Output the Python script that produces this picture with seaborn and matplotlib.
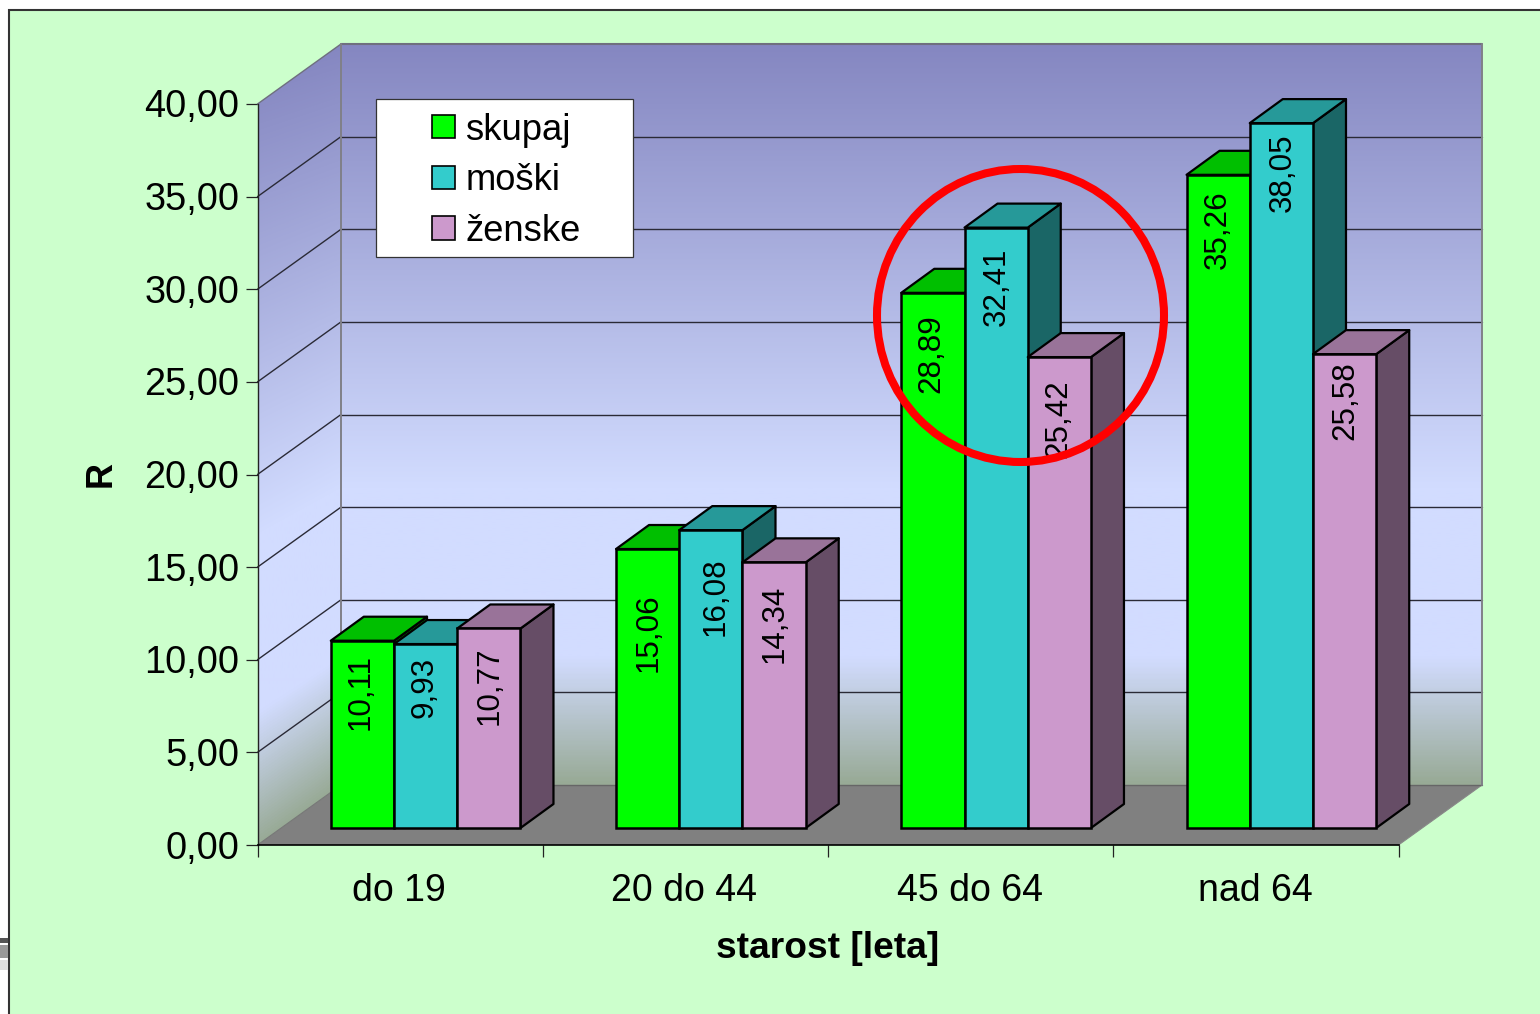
import numpy as np
import pandas as pd
import matplotlib
matplotlib.use("Agg")
import matplotlib.pyplot as plt
import seaborn as sns
from matplotlib.colors import to_rgb, LinearSegmentedColormap
from matplotlib.patches import Polygon, Rectangle, Ellipse
from matplotlib.transforms import Affine2D, IdentityTransform

# Chart values
age_groups = ["do 19", "20 do 44", "45 do 64", "nad 64"]
series_names = ["skupaj", "moški", "ženske"]
skupaj = [10.11, 15.06, 28.89, 35.26]
moski = [9.93, 16.08, 32.41, 38.05]
zenske = [10.77, 14.34, 25.42, 25.58]
value_labels = [["10,11", "15,06", "28,89", "35,26"],
                ["9,93", "16,08", "32,41", "38,05"],
                ["10,77", "14,34", "25,42", "25,58"]]
y_ticks = [0, 5, 10, 15, 20, 25, 30, 35, 40]
y_tick_labels = ["0,00", "5,00", "10,00", "15,00", "20,00", "25,00", "30,00", "35,00", "40,00"]

# Distance in pixels from the top of each bar to the centre of its rotated label
label_drop = [[51, 84, 61, 55],
              [43, 67, 59, 50],
              [57, 62, 62, 46]]
label_shift = [[-2, 1, -2, 0],
               [-1, 5, 1, 1],
               [1, 1, -1, 1]]

W, H = 1540, 1014
DPI = 100
sns.set_theme(style="white")
plt.rcParams["font.family"] = ["Liberation Sans", "DejaVu Sans"]

fig = plt.figure(figsize=(W / DPI, H / DPI), dpi=DPI, facecolor="white")

# Front plane of the box: x 257.5-1398.5, y 845 (zero) to 104 (forty)
FX0, FX1, FY0, FY1 = 257.5, 1398.5, 845, 104
BACK_DX, BACK_DY = 83.5, 60        # full box depth
BAR_DX, BAR_DY = 25.5, 17          # front of the bars inside the box
FACE_DX, FACE_DY = 33, 24          # depth of one bar

# Pixel-space layer holding panel, walls and floor
bg = fig.add_axes([0, 0, 1, 1], zorder=0)
bg.set_xlim(0, W)
bg.set_ylim(H, 0)
bg.axis("off")
bg.add_patch(Rectangle((8.7, 9.7), W, H, facecolor="#ccffcc", edgecolor="#333333", lw=1.5))
bg.add_patch(Rectangle((0, 938), 7.5, 5, facecolor="#555555", edgecolor="none"))
bg.add_patch(Rectangle((0, 945), 7.5, 13, facecolor="#999999", edgecolor="none"))
bg.add_patch(Rectangle((0, 960), 7.5, 10, facecolor="#dddddd", edgecolor="none"))

wall_cmap = LinearSegmentedColormap.from_list(
    "wall", [(0, "#8587c1"), (0.60, "#d2dcff"), (0.83, "#d2dcff"), (1, "#98aa96")])

# Back wall
back_x0, back_x1 = FX0 + BACK_DX, FX1 + BACK_DX
back_y1, back_y0 = FY1 - BACK_DY, FY0 - BACK_DY
bg.imshow(np.linspace(0, 1, 400)[:, None], cmap=wall_cmap, vmin=0, vmax=1, aspect="auto",
          extent=(back_x0, back_x1, back_y0, back_y1), zorder=1, interpolation="bilinear")

# Side wall, its gradient lightly sheared along the depth direction
xx, yy = np.meshgrid(np.arange(FX0, back_x0 + 1), np.arange(back_y1, FY0 + 1))
wall_top = back_y1 + (back_x0 - xx) * 0.3
wall_bottom = back_y0 + (back_x0 - xx) * BACK_DY / BACK_DX
tt = (yy - wall_top) / (wall_bottom - wall_top)
side_im = bg.imshow(np.clip(tt, 0, 1), cmap=wall_cmap, vmin=0, vmax=1, aspect="auto",
                    extent=(FX0, back_x0, FY0, back_y1), zorder=1, interpolation="bilinear")
side_poly = Polygon([(FX0, FY1), (back_x0, back_y1), (back_x0, back_y0), (FX0, FY0)],
                    transform=bg.transData, facecolor="none", edgecolor="none")
bg.add_patch(side_poly)
side_im.set_clip_path(side_poly)

# Floor
bg.add_patch(Polygon([(FX0, FY0), (back_x0, back_y0), (back_x1, back_y0), (FX1, FY0)],
                     facecolor="#808080", edgecolor="none", zorder=1.5))
bg.set_xlim(0, W)
bg.set_ylim(H, 0)

# Main axes sit on the front plane, so ticks and labels use its own scale
ax = fig.add_axes([FX0 / W, 1 - FY0 / H, (FX1 - FX0) / W, (FY0 - FY1) / H], zorder=2)
ax.patch.set_alpha(0)

df = pd.DataFrame({
    "starost": age_groups * 3,
    "R": skupaj + moski + zenske,
    "spol": [n for n in series_names for _ in age_groups],
})
palette = dict(zip(series_names, ["#00ff00", "#33cccc", "#cc99cc"]))
sns.barplot(data=df, x="starost", y="R", hue="spol", hue_order=series_names,
            order=age_groups, palette=palette, saturation=1, width=0.665, gap=0,
            edgecolor="black", linewidth=1.8, ax=ax, errorbar=None)
ax.set_xlim(-0.5, 3.5)
ax.set_ylim(0, 40)

for s in ("top", "right"):
    ax.spines[s].set_visible(False)
ax.spines["left"].set_color("#222222")
ax.spines["left"].set_linewidth(1.0)
ax.spines["bottom"].set_color("black")
ax.spines["bottom"].set_linewidth(1.2)

ax.set_yticks(y_ticks, y_tick_labels)
ax.set_xticks(range(len(age_groups)), age_groups)
ax.set_xticks(np.arange(-0.5, 4), minor=True)
ax.tick_params(axis="y", which="major", left=True, length=8.6, width=0.9, color="#222222",
               pad=4.5, labelsize=27.4, labelcolor="black")
ax.tick_params(axis="x", which="major", bottom=False, length=0, pad=20.5, labelsize=27,
               labelcolor="black")
ax.tick_params(axis="x", which="minor", bottom=True, length=8.6, width=0.9, color="#222222")
for lab in ax.get_yticklabels():
    lab.set_transform(lab.get_transform() + Affine2D().translate(0, 0.5))
for lab in ax.get_xticklabels():
    lab.set_transform(lab.get_transform() + Affine2D().translate(-1, 0))

ax.set_xlabel("starost [leta]", fontsize=26.7, fontweight="bold", va="center", color="black")
ax.xaxis.set_label_coords((828 - FX0) / (FX1 - FX0), (FY0 - 948) / (FY0 - FY1))
ax.set_ylabel("R", fontsize=26, fontweight="bold", va="center", color="black")
ax.yaxis.set_label_coords((101.5 - FX0) / (FX1 - FX0), (FY0 - 474) / (FY0 - FY1))

fig.canvas.draw()
data_to_px = ax.transData

# Wall rules, floor edges and the outline of the box
for v in y_ticks:
    px = data_to_px.transform((-0.5, v))
    pe = data_to_px.transform((3.5, v))
    a = px + (BACK_DX, BACK_DY)
    b = pe + (BACK_DX, BACK_DY)
    col, lw = ("#6f6f7f", 1.5) if v == 40 else ("#2a2a36", 1.0)
    if v > 0:
        ax.plot([a[0], b[0]], [a[1], b[1]], color=col, lw=lw, transform=IdentityTransform(),
                clip_on=False, zorder=1.0)
        ax.plot([px[0], a[0]], [px[1], a[1]], color=col, lw=1.0, transform=IdentityTransform(),
                clip_on=False, zorder=1.0)
    else:
        ax.plot([px[0], a[0]], [px[1], a[1]], color="#777777", lw=0.8,
                transform=IdentityTransform(), clip_on=False, zorder=1.0)
        ax.plot([pe[0], b[0]], [pe[1], b[1]], color="#888888", lw=0.8,
                transform=IdentityTransform(), clip_on=False, zorder=1.0)
        ax.plot([a[0], b[0]], [a[1], b[1]], color="#666666", lw=1.0,
                transform=IdentityTransform(), clip_on=False, zorder=1.0)
for cat_x in (-0.5, 3.5):
    p0 = data_to_px.transform((cat_x, 0)) + (BACK_DX, BACK_DY)
    p1 = data_to_px.transform((cat_x, 40)) + (BACK_DX, BACK_DY)
    ax.plot([p0[0], p1[0]], [p0[1], p1[1]], color="#808088", lw=1.4,
            transform=IdentityTransform(), clip_on=False, zorder=1.0)

# Extrude every bar: side and top faces follow the front rectangle
shift = Affine2D().translate(BAR_DX, BAR_DY)
bars_transform = ax.transData + shift
d = np.array([FACE_DX, FACE_DY])
for i, container in enumerate(ax.containers):
    base = np.array(to_rgb(list(palette.values())[i]))
    top_col = base * 0.75
    side_col = base * 0.5
    for j, bar in enumerate(container):
        x0, w, h = bar.get_x(), bar.get_width(), bar.get_height()
        z = 3 + i * 0.1
        bar.set_transform(bars_transform)
        bar.set_zorder(z)
        bar.set_clip_on(False)
        ll, lr = bars_transform.transform([(x0, 0), (x0 + w, 0)])
        tl, tr = bars_transform.transform([(x0, h), (x0 + w, h)])
        ax.add_patch(Polygon([lr, lr + d, tr + d, tr], facecolor=side_col, edgecolor="black",
                             lw=1.6, transform=IdentityTransform(), clip_on=False,
                             zorder=z - 0.05, joinstyle="round"))
        ax.add_patch(Polygon([tl, tl + d, tr + d, tr], facecolor=top_col, edgecolor="black",
                             lw=1.6, transform=IdentityTransform(), clip_on=False,
                             zorder=z - 0.05, joinstyle="round"))
        ax.text(0.5 * (tl[0] + tr[0]) + label_shift[i][j], tl[1] - label_drop[i][j],
                value_labels[i][j], rotation=90, ha="center", va="center", fontsize=22.6,
                color="black", transform=IdentityTransform(), zorder=3.5,
                rotation_mode="anchor", clip_on=False)

# Legend on a white card lying on the back wall
ax.add_patch(Rectangle((376, H - 257), 256.5, 158, facecolor="white", edgecolor="#333333",
                       lw=0.9, transform=IdentityTransform(), clip_on=False, zorder=2.5))
handles, labels = ax.get_legend_handles_labels()
leg = ax.legend(handles, labels, loc="upper left",
                bbox_to_anchor=(432 / W, 1 - 112.5 / H), bbox_transform=fig.transFigure,
                frameon=False, borderaxespad=0, borderpad=0, fontsize=26.2,
                handlelength=0.62, handleheight=0.62, handletextpad=0.3, labelspacing=0.43)
leg.set_zorder(2.6)
for txt in leg.get_texts():
    txt.set_color("black")
for patch in leg.get_patches():
    patch.set_edgecolor("black")
    patch.set_linewidth(1.2)

# Red ring highlighting the 45 do 64 group
ax.add_patch(Ellipse((1020.5, H - 315.5), 287, 293, facecolor="none", edgecolor="#ff0000",
                     lw=5.8, transform=IdentityTransform(), clip_on=False, zorder=5))

fig.savefig("out.png", dpi=DPI, facecolor="white")
